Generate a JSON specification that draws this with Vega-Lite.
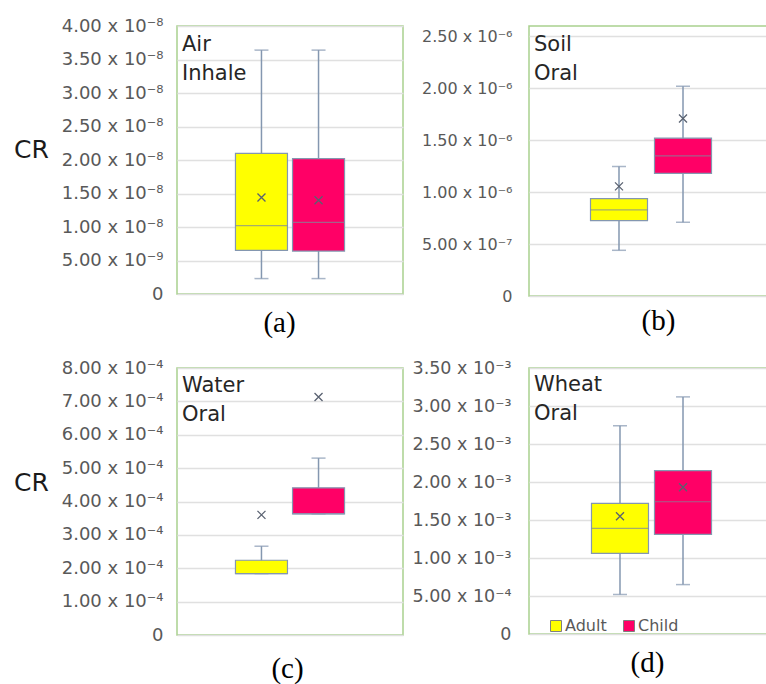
{
  "$schema": "https://vega.github.io/schema/vega-lite/v6.json",
  "padding": {"left": 12, "top": 16, "right": 0, "bottom": 0},
  "background": "white",
  "datasets": {
    "stats": [
      {"panel": "a", "group": "Adult", "min": 2.3e-9, "q1": 6.5e-9, "median": 1.02e-8, "q3": 2.10e-8, "max": 3.64e-8, "mean": 1.44e-8},
      {"panel": "a", "group": "Child", "min": 2.3e-9, "q1": 6.4e-9, "median": 1.07e-8, "q3": 2.02e-8, "max": 3.64e-8, "mean": 1.40e-8},
      {"panel": "b", "group": "Adult", "min": 4.4e-7, "q1": 7.25e-7, "median": 8.3e-7, "q3": 9.38e-7, "max": 1.247e-6, "mean": 1.056e-6},
      {"panel": "b", "group": "Child", "min": 7.1e-7, "q1": 1.18e-6, "median": 1.35e-6, "q3": 1.52e-6, "max": 2.02e-6, "mean": 1.71e-6},
      {"panel": "c", "group": "Adult", "min": 1.84e-4, "q1": 1.84e-4, "median": 1.84e-4, "q3": 2.24e-4, "max": 2.66e-4, "mean": 3.6e-4},
      {"panel": "c", "group": "Child", "min": 3.63e-4, "q1": 3.63e-4, "median": 3.63e-4, "q3": 4.41e-4, "max": 5.3e-4, "mean": 7.13e-4},
      {"panel": "d", "group": "Adult", "min": 5.2e-4, "q1": 1.06e-3, "median": 1.39e-3, "q3": 1.72e-3, "max": 2.74e-3, "mean": 1.55e-3},
      {"panel": "d", "group": "Child", "min": 6.5e-4, "q1": 1.31e-3, "median": 1.74e-3, "q3": 2.15e-3, "max": 3.12e-3, "mean": 1.93e-3}
    ]
  },
  "columns": 2,
  "spacing": {"row": 72, "column": 126},
  "bounds": "flush",
  "align": "each",
  "resolve": {"scale": {"color": "independent", "x": "independent", "y": "independent"}, "legend": {"color": "independent"}},
  "config": {
    "view": {"stroke": "#A9D18E", "strokeWidth": 1.5},
    "font": "DejaVu Sans",
    "axisY": {"domain": false, "ticks": false, "grid": true, "gridColor": "#E0E0E0", "gridWidth": 1.5, "labelOverlap": false, "labelSeparation": 0, "labelFontSize": 18, "labelColor": "#595959", "labelFont": "DejaVu Sans", "labelPadding": 14, "titleFont": "DejaVu Sans", "titleFontSize": 25, "titleFontWeight": "normal", "titleColor": "#1a1a1a", "titleAngle": 0, "titleAlign": "center", "titleBaseline": "middle",
      "labelExpr": "datum.value == 0 ? '0' : format(datum.value / pow(10, floor(log(datum.value)/LN10 + 1e-6)), '.2f') + ' x 10⁻' + substring('⁰¹²³⁴⁵⁶⁷⁸⁹', -floor(log(datum.value)/LN10 + 1e-6), 1 - floor(log(datum.value)/LN10 + 1e-6))"},
    "axisX": {"domain": false, "ticks": false, "labels": false, "grid": false, "titleFont": "Liberation Serif", "titleFontSize": 29, "titleFontWeight": "normal", "titleColor": "#000000", "titleBaseline": "middle", "titleAlign": "center"},
    "title": {"anchor": "start", "frame": "group", "fontSize": 21, "fontWeight": "normal", "color": "#262626", "font": "DejaVu Sans", "lineHeight": 29, "dx": 5}
  },
  "concat": [
    {
      "width": 226, "height": 268,
      "title": {"text": ["Air", "Inhale"], "offset": -67},
      "data": {"name": "stats"},
      "transform": [{"filter": "datum.panel == 'a'"}],
      "encoding": {"x": {"field": "group", "type": "nominal", "scale": {"type": "band", "paddingInner": 0, "paddingOuter": 0.98, "domain": ["Adult", "Child"]}, "axis": {"title": "(a)", "titleX": 102, "titleY": 28}}},
      "layer": [
        {"mark": {"type": "rule", "stroke": "#8497B0", "strokeWidth": 1.5}, "encoding": {"y": {"field": "min", "type": "quantitative", "scale": {"domain": [0, 4e-8]}, "axis": {"title": "CR", "titleX": -146, "titleY": 123, "values": [0, 5e-9, 1e-8, 1.5e-8, 2e-8, 2.5e-8, 3e-8, 3.5e-8, 4e-8]}}, "y2": {"field": "max"}}},
        {"mark": {"type": "tick", "size": 14, "thickness": 1.5, "color": "#8497B0"}, "encoding": {"y": {"field": "max", "type": "quantitative", "axis": {"title": "CR", "titleX": -146, "titleY": 123, "values": [0, 5e-9, 1e-8, 1.5e-8, 2e-8, 2.5e-8, 3e-8, 3.5e-8, 4e-8]}}}},
        {"mark": {"type": "tick", "size": 14, "thickness": 1.5, "color": "#8497B0"}, "encoding": {"y": {"field": "min", "type": "quantitative", "axis": {"title": "CR", "titleX": -146, "titleY": 123, "values": [0, 5e-9, 1e-8, 1.5e-8, 2e-8, 2.5e-8, 3e-8, 3.5e-8, 4e-8]}}}},
        {"mark": {"type": "bar", "size": 52, "stroke": "#8497B0", "strokeWidth": 1.2, "opacity": 1}, "encoding": {"y": {"field": "q1", "type": "quantitative", "axis": {"title": "CR", "titleX": -146, "titleY": 123, "values": [0, 5e-9, 1e-8, 1.5e-8, 2e-8, 2.5e-8, 3e-8, 3.5e-8, 4e-8]}}, "y2": {"field": "q3"}, "color": {"field": "group", "type": "nominal", "scale": {"domain": ["Adult", "Child"], "range": ["#FFFF00", "#FF0066"]}, "legend": null}}},
        {"mark": {"type": "tick", "size": 52, "thickness": 1.2, "color": "#7F8A9A"}, "encoding": {"y": {"field": "median", "type": "quantitative", "axis": {"title": "CR", "titleX": -146, "titleY": 123, "values": [0, 5e-9, 1e-8, 1.5e-8, 2e-8, 2.5e-8, 3e-8, 3.5e-8, 4e-8]}}}},
        {"mark": {"type": "point", "shape": "M-1,-1L1,1M1,-1L-1,1", "size": 64, "stroke": "#596170", "strokeWidth": 1.3, "filled": false, "opacity": 1}, "encoding": {"y": {"field": "mean", "type": "quantitative", "axis": {"title": "CR", "titleX": -146, "titleY": 123, "values": [0, 5e-9, 1e-8, 1.5e-8, 2e-8, 2.5e-8, 3e-8, 3.5e-8, 4e-8]}}}}
      ]
    },
    {
      "width": 244, "height": 270,
      "title": {"text": ["Soil", "Oral"], "offset": -58},
      "data": {"name": "stats"},
      "transform": [{"filter": "datum.panel == 'b'"}],
      "encoding": {"x": {"field": "group", "type": "nominal", "scale": {"type": "band", "paddingInner": 0, "paddingOuter": 0.906, "domain": ["Adult", "Child"]}, "axis": {"title": "(b)", "titleX": 129, "titleY": 24}}},
      "layer": [
        {"mark": {"type": "rule", "stroke": "#8497B0", "strokeWidth": 1.5}, "encoding": {"y": {"field": "min", "type": "quantitative", "scale": {"domain": [0, 2.5e-6]}, "axis": {"title": null, "labelPadding": 17, "labelFontSize": 16, "values": [0, 5e-7, 1e-6, 1.5e-6, 2e-6, 2.5e-6]}}, "y2": {"field": "max"}}},
        {"mark": {"type": "tick", "size": 14, "thickness": 1.5, "color": "#8497B0"}, "encoding": {"y": {"field": "max", "type": "quantitative", "axis": {"title": null, "labelPadding": 17, "labelFontSize": 16, "values": [0, 5e-7, 1e-6, 1.5e-6, 2e-6, 2.5e-6]}}}},
        {"mark": {"type": "tick", "size": 14, "thickness": 1.5, "color": "#8497B0"}, "encoding": {"y": {"field": "min", "type": "quantitative", "axis": {"title": null, "labelPadding": 17, "labelFontSize": 16, "values": [0, 5e-7, 1e-6, 1.5e-6, 2e-6, 2.5e-6]}}}},
        {"mark": {"type": "bar", "size": 57, "stroke": "#8497B0", "strokeWidth": 1.2, "opacity": 1}, "encoding": {"y": {"field": "q1", "type": "quantitative", "axis": {"title": null, "labelPadding": 17, "labelFontSize": 16, "values": [0, 5e-7, 1e-6, 1.5e-6, 2e-6, 2.5e-6]}}, "y2": {"field": "q3"}, "color": {"field": "group", "type": "nominal", "scale": {"domain": ["Adult", "Child"], "range": ["#FFFF00", "#FF0066"]}, "legend": null}}},
        {"mark": {"type": "tick", "size": 57, "thickness": 1.2, "color": "#7F8A9A"}, "encoding": {"y": {"field": "median", "type": "quantitative", "axis": {"title": null, "labelPadding": 17, "labelFontSize": 16, "values": [0, 5e-7, 1e-6, 1.5e-6, 2e-6, 2.5e-6]}}}},
        {"mark": {"type": "point", "shape": "M-1,-1L1,1M1,-1L-1,1", "size": 64, "stroke": "#596170", "strokeWidth": 1.3, "filled": false, "opacity": 1}, "encoding": {"y": {"field": "mean", "type": "quantitative", "axis": {"title": null, "labelPadding": 17, "labelFontSize": 16, "values": [0, 5e-7, 1e-6, 1.5e-6, 2e-6, 2.5e-6]}}}}
      ]
    },
    {
      "width": 226, "height": 267,
      "title": {"text": ["Water", "Oral"], "offset": -66},
      "data": {"name": "stats"},
      "transform": [{"filter": "datum.panel == 'c'"}],
      "encoding": {"x": {"field": "group", "type": "nominal", "scale": {"type": "band", "paddingInner": 0, "paddingOuter": 0.98, "domain": ["Adult", "Child"]}, "axis": {"title": "(c)", "titleX": 110, "titleY": 33}}},
      "layer": [
        {"mark": {"type": "rule", "stroke": "#8497B0", "strokeWidth": 1.5}, "encoding": {"y": {"field": "min", "type": "quantitative", "scale": {"domain": [0, 8e-4]}, "axis": {"title": "CR", "titleX": -146, "titleY": 114, "values": [0, 1e-4, 2e-4, 3e-4, 4e-4, 5e-4, 6e-4, 7e-4, 8e-4]}}, "y2": {"field": "max"}}},
        {"mark": {"type": "tick", "size": 14, "thickness": 1.5, "color": "#8497B0"}, "encoding": {"y": {"field": "max", "type": "quantitative", "axis": {"title": "CR", "titleX": -146, "titleY": 114, "values": [0, 1e-4, 2e-4, 3e-4, 4e-4, 5e-4, 6e-4, 7e-4, 8e-4]}}}},
        {"mark": {"type": "tick", "size": 14, "thickness": 1.5, "color": "#8497B0"}, "encoding": {"y": {"field": "min", "type": "quantitative", "axis": {"title": "CR", "titleX": -146, "titleY": 114, "values": [0, 1e-4, 2e-4, 3e-4, 4e-4, 5e-4, 6e-4, 7e-4, 8e-4]}}}},
        {"mark": {"type": "bar", "size": 52, "stroke": "#8497B0", "strokeWidth": 1.2, "opacity": 1}, "encoding": {"y": {"field": "q1", "type": "quantitative", "axis": {"title": "CR", "titleX": -146, "titleY": 114, "values": [0, 1e-4, 2e-4, 3e-4, 4e-4, 5e-4, 6e-4, 7e-4, 8e-4]}}, "y2": {"field": "q3"}, "color": {"field": "group", "type": "nominal", "scale": {"domain": ["Adult", "Child"], "range": ["#FFFF00", "#FF0066"]}, "legend": null}}},
        {"mark": {"type": "tick", "size": 52, "thickness": 1.2, "color": "#8497B0"}, "encoding": {"y": {"field": "median", "type": "quantitative", "axis": {"title": "CR", "titleX": -146, "titleY": 114, "values": [0, 1e-4, 2e-4, 3e-4, 4e-4, 5e-4, 6e-4, 7e-4, 8e-4]}}}},
        {"mark": {"type": "point", "shape": "M-1,-1L1,1M1,-1L-1,1", "size": 64, "stroke": "#596170", "strokeWidth": 1.3, "filled": false, "opacity": 1}, "encoding": {"y": {"field": "mean", "type": "quantitative", "axis": {"title": "CR", "titleX": -146, "titleY": 114, "values": [0, 1e-4, 2e-4, 3e-4, 4e-4, 5e-4, 6e-4, 7e-4, 8e-4]}}}}
      ]
    },
    {
      "width": 245, "height": 266,
      "title": {"text": ["Wheat", "Oral"], "offset": -65},
      "data": {"name": "stats"},
      "transform": [{"filter": "datum.panel == 'd'"}],
      "encoding": {"x": {"field": "group", "type": "nominal", "scale": {"type": "band", "paddingInner": 0, "paddingOuter": 0.944, "domain": ["Adult", "Child"]}, "axis": {"title": "(d)", "titleX": 118, "titleY": 28}}},
      "layer": [
        {"mark": {"type": "rule", "stroke": "#8497B0", "strokeWidth": 1.5}, "encoding": {"y": {"field": "min", "type": "quantitative", "scale": {"domain": [0, 3.5e-3]}, "axis": {"title": null, "labelPadding": 18, "labelFontSize": 17.5, "values": [0, 5e-4, 1e-3, 1.5e-3, 2e-3, 2.5e-3, 3e-3, 3.5e-3]}}, "y2": {"field": "max"}}},
        {"mark": {"type": "tick", "size": 14, "thickness": 1.5, "color": "#8497B0"}, "encoding": {"y": {"field": "max", "type": "quantitative", "axis": {"title": null, "labelPadding": 18, "labelFontSize": 17.5, "values": [0, 5e-4, 1e-3, 1.5e-3, 2e-3, 2.5e-3, 3e-3, 3.5e-3]}}}},
        {"mark": {"type": "tick", "size": 14, "thickness": 1.5, "color": "#8497B0"}, "encoding": {"y": {"field": "min", "type": "quantitative", "axis": {"title": null, "labelPadding": 18, "labelFontSize": 17.5, "values": [0, 5e-4, 1e-3, 1.5e-3, 2e-3, 2.5e-3, 3e-3, 3.5e-3]}}}},
        {"mark": {"type": "bar", "size": 57, "stroke": "#8497B0", "strokeWidth": 1.2, "opacity": 1}, "encoding": {"y": {"field": "q1", "type": "quantitative", "axis": {"title": null, "labelPadding": 18, "labelFontSize": 17.5, "values": [0, 5e-4, 1e-3, 1.5e-3, 2e-3, 2.5e-3, 3e-3, 3.5e-3]}}, "y2": {"field": "q3"}, "color": {"field": "group", "type": "nominal", "scale": {"domain": ["Adult", "Child"], "range": ["#FFFF00", "#FF0066"]}, "legend": {"orient": "none", "legendX": 19, "legendY": 250, "direction": "horizontal", "title": null, "symbolType": "square", "symbolSize": 121, "symbolStrokeColor": "#7F7F7F", "symbolStrokeWidth": 1, "labelFontSize": 16, "labelColor": "#595959", "labelFont": "DejaVu Sans", "labelOffset": 1, "columnPadding": 14, "padding": 0}}}},
        {"mark": {"type": "tick", "size": 57, "thickness": 1.2, "color": "#7F8A9A"}, "encoding": {"y": {"field": "median", "type": "quantitative", "axis": {"title": null, "labelPadding": 18, "labelFontSize": 17.5, "values": [0, 5e-4, 1e-3, 1.5e-3, 2e-3, 2.5e-3, 3e-3, 3.5e-3]}}}},
        {"mark": {"type": "point", "shape": "M-1,-1L1,1M1,-1L-1,1", "size": 64, "stroke": "#596170", "strokeWidth": 1.3, "filled": false, "opacity": 1}, "encoding": {"y": {"field": "mean", "type": "quantitative", "axis": {"title": null, "labelPadding": 18, "labelFontSize": 17.5, "values": [0, 5e-4, 1e-3, 1.5e-3, 2e-3, 2.5e-3, 3e-3, 3.5e-3]}}}}
      ]
    }
  ]
}
